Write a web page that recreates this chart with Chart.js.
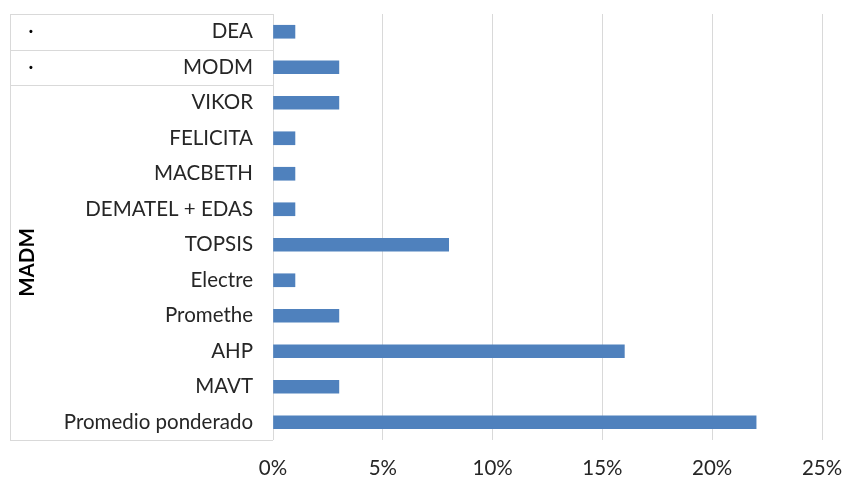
<!DOCTYPE html>
<html><head><meta charset="utf-8">
<script src="https://cdn.jsdelivr.net/npm/chart.js@4/dist/chart.umd.min.js"></script>
<style>html,body{margin:0;padding:0;background:#fff}#w{width:846px;height:479px}</style>
</head><body><div id="w"><canvas id="c"></canvas></div>
<script>
const categories = ['DEA','MODM','VIKOR','FELICITA','MACBETH','DEMATEL + EDAS','TOPSIS','Electre','Promethe','AHP','MAVT','Promedio ponderado'];
const groups = ['·','·','MADM','MADM','MADM','MADM','MADM','MADM','MADM','MADM','MADM','MADM'];
const values = [1,3,3,1,1,1,8,1,3,16,3,22];
const xTicks = [0,5,10,15,20,25];

const FONT = 'Lato, "Open Sans", sans-serif';
const FS = 20.5;
const TXT = '#262626';
const LINE = '#d9d9d9';

const groupPlugin = {
  id:'groups',
  afterDraw(chart){
    const ctx = chart.ctx, y = chart.scales.y, a = chart.chartArea;
    const left = 10, right = a.left;
    const half = (y.getPixelForValue(1) - y.getPixelForValue(0))/2;
    ctx.save();
    ctx.strokeStyle = LINE; ctx.lineWidth = 1;
    const hline = yy => {ctx.beginPath();ctx.moveTo(left,Math.round(yy)+0.5);ctx.lineTo(right,Math.round(yy)+0.5);ctx.stroke();};
    let runs = [], s = 0;
    for (let i=1;i<=groups.length;i++){
      if (i===groups.length || groups[i]!==groups[s] || groups[s]==='·'){ runs.push([s,i-1]); s=i; }
    }
    ctx.beginPath();ctx.moveTo(left+0.5,a.top);ctx.lineTo(left+0.5,a.bottom);ctx.stroke();
    hline(a.top); hline(a.bottom);
    ctx.fillStyle = '#000';
    runs.forEach(([i0,i1])=>{
      const top = y.getPixelForValue(i0)-half, bot = y.getPixelForValue(i1)+half;
      if (i1 < groups.length-1) hline(bot);
      const label = groups[i0], cy = (top+bot)/2;
      if (label==='·'){
        ctx.font = FS + 'px ' + FONT;
        ctx.textAlign='center'; ctx.textBaseline='middle';
        ctx.fillText(label, 31, cy);
      } else {
        ctx.font = 'bold ' + FS + 'px ' + FONT;
        ctx.save(); ctx.translate(27, cy); ctx.rotate(-Math.PI/2);
        ctx.textAlign='center'; ctx.textBaseline='middle';
        ctx.fillText(label,0,0); ctx.restore();
      }
    });
    ctx.restore();
  }
};

new Chart(document.getElementById('c'),{
  type:'bar',
  data:{labels:categories,datasets:[{data:values,backgroundColor:'#4F81BD',borderWidth:0,barThickness:13}]},
  options:{
    indexAxis:'y', responsive:true, maintainAspectRatio:false, animation:false,
    layout:{padding:{top:14,right:24,left:0,bottom:0}},
    plugins:{legend:{display:false},tooltip:{enabled:false}},
    scales:{
      x:{min:0,max:25,afterBuildTicks(s){s.ticks = xTicks.map(v=>({value:v}));},
         afterFit(s){s.height=39;s.paddingLeft=0;s.paddingRight=0;},
         grid:{color:LINE,drawTicks:false},border:{display:false},
         ticks:{padding:16,color:TXT,font:{family:FONT,size:FS},callback:v=>v+'%'}},
      y:{afterFit(s){s.width=273;s.paddingTop=0;s.paddingBottom=0;},
         grid:{display:false,drawTicks:false},border:{display:false},
         ticks:{padding:20,color:TXT,font:{family:FONT,size:FS}}}
    }
  },
  plugins:[groupPlugin]
});
</script></body></html>
